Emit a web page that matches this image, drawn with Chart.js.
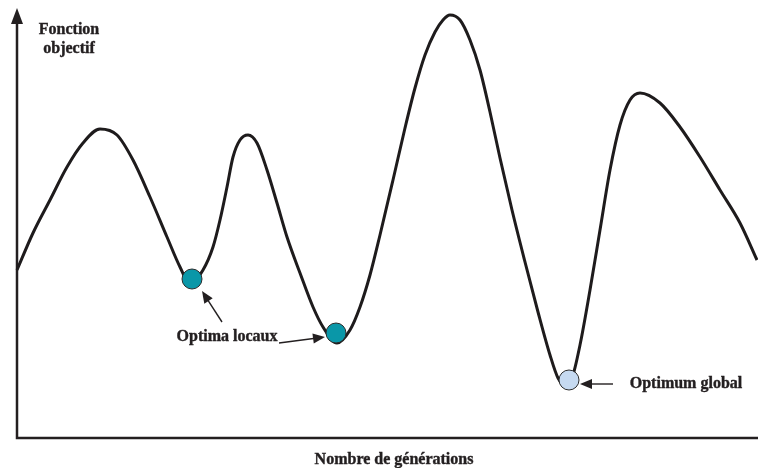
<!DOCTYPE html>
<html>
<head>
<meta charset="utf-8">
<script src="https://cdn.jsdelivr.net/npm/chart.js@4.4.1/dist/chart.umd.min.js"></script>
<style>
  html, body { margin: 0; padding: 0; background: #fff; }
  #wrap { width: 758px; height: 468px; position: relative; }
</style>
</head>
<body>
<div id="wrap"><canvas id="chart"></canvas></div>
<script>
// curve (generations, objective)
const generations = [0, 16, 33, 50, 66, 83, 100, 116, 133, 150, 163, 173, 186, 196, 203, 210, 216, 223, 231, 240,
  250, 260, 270, 283, 296, 306, 320, 333, 343, 353, 363, 376, 388, 398, 408, 418, 426, 433, 443, 453,
  463, 473, 483, 495, 508, 521, 533, 541, 548, 555, 563, 573, 583, 593, 603, 613, 623, 643, 663, 683,
  703, 723, 740];
const objective = [168, 205, 238, 271, 295, 309, 303, 278, 241, 201, 171, 154, 168, 191, 218, 251, 281, 298, 303, 295,
  268, 235, 201, 165, 131, 111, 95, 108, 131, 163, 203, 258, 310, 350, 383, 406, 418, 423, 418, 398,
  368, 326, 280, 228, 176, 126, 83, 60, 53, 60, 93, 148, 208, 268, 313, 338, 345, 335, 311, 281,
  248, 215, 178];

// marked optima
const optimaX = [175, 319, 552];
const optimaY = [159, 105, 58];
const optimaColors = ['#0a97a8', '#0a97a8', '#c6daf1'];

const curve = generations.map((g, i) => ({ x: g, y: objective[i] }));
const optima = optimaX.map((g, i) => ({ x: g, y: optimaY[i] }));

const serif = 'bold 16px "Liberation Serif", "Times New Roman", serif';

function arrow(ctx, x1, y1, x2, y2) {
  const a = Math.atan2(y2 - y1, x2 - x1);
  const len = 12, w = 5;
  ctx.beginPath();
  ctx.moveTo(x1, y1);
  ctx.lineTo(x2 - Math.cos(a) * len * 0.8, y2 - Math.sin(a) * len * 0.8);
  ctx.stroke();
  ctx.beginPath();
  ctx.moveTo(x2, y2);
  ctx.lineTo(x2 - Math.cos(a) * len + Math.sin(a) * w, y2 - Math.sin(a) * len - Math.cos(a) * w);
  ctx.lineTo(x2 - Math.cos(a) * len - Math.sin(a) * w, y2 - Math.sin(a) * len + Math.cos(a) * w);
  ctx.closePath();
  ctx.fill();
}

const axesPlugin = {
  id: 'axesAndNotes',
  beforeDatasetsDraw(chart) {
    const { ctx, chartArea, scales } = chart;
    const x0 = scales.x.getPixelForValue(0);
    const y0 = scales.y.getPixelForValue(0);
    ctx.save();
    ctx.strokeStyle = '#231f20';
    ctx.fillStyle = '#231f20';
    ctx.lineWidth = 2.5;
    ctx.beginPath();
    ctx.moveTo(x0, chartArea.top + 10);
    ctx.lineTo(x0, y0);
    ctx.lineTo(chartArea.right, y0);
    ctx.stroke();
    // arrow head on the y axis
    ctx.beginPath();
    ctx.moveTo(x0, chartArea.top - 2);
    ctx.lineTo(x0 - 6, chartArea.top + 14);
    ctx.lineTo(x0 + 6, chartArea.top + 14);
    ctx.closePath();
    ctx.fill();
    ctx.restore();
  },
  afterDatasetsDraw(chart) {
    const { ctx, scales } = chart;
    const px = v => scales.x.getPixelForValue(v);
    const py = v => scales.y.getPixelForValue(v);
    ctx.save();
    ctx.fillStyle = '#231f20';
    ctx.strokeStyle = '#231f20';
    ctx.font = serif;
    ctx.textAlign = 'center';
    ctx.textBaseline = 'middle';
    ctx.lineWidth = 0.4;
    const label = (t, x, y) => { ctx.fillText(t, x, y); ctx.strokeText(t, x, y); };
    label('Fonction', 69, 30);
    label('objectif', 69, 49);
    label('Optima locaux', px(210), py(101));
    label('Optimum global', px(669), py(54));
    label('Nombre de générations', px(377), 460);
    ctx.lineWidth = 1.4;
    arrow(ctx, px(205), py(116), px(185), py(147));
    arrow(ctx, px(262), py(95), px(308), py(101));
    arrow(ctx, px(596), py(54), px(563), py(54));
    ctx.restore();
  }
};

new Chart(document.getElementById('chart'), {
  type: 'scatter',
  data: {
    datasets: [
      {
        data: optima,
        pointRadius: 10,
        pointHoverRadius: 10,
        pointBackgroundColor: optimaColors,
        pointBorderColor: '#2b2b2b',
        pointBorderWidth: 1,
        order: 0
      },
      {
        data: curve,
        showLine: true,
        borderColor: '#1e1b1c',
        borderWidth: 3,
        cubicInterpolationMode: 'monotone',
        pointRadius: 0,
        fill: false,
        clip: false,
        order: 1
      }
    ]
  },
  options: {
    responsive: true,
    maintainAspectRatio: false,
    animation: false,
    layout: { autoPadding: false, padding: { left: 17, right: 0, top: 10, bottom: 30 } },
    plugins: { legend: { display: false }, tooltip: { enabled: false } },
    scales: {
      x: { type: 'linear', display: false, min: 0, max: 741 },
      y: { type: 'linear', display: false, min: 0, max: 428 }
    }
  },
  plugins: [axesPlugin]
});
</script>
</body>
</html>
